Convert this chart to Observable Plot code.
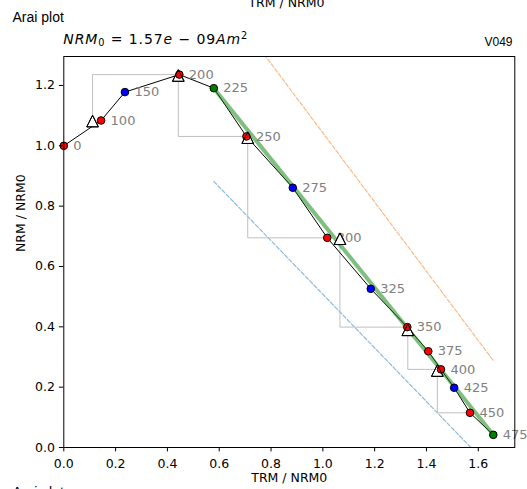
<!DOCTYPE html>
<html>
<head>
<meta charset="utf-8">
<script src="https://cdn.jsdelivr.net/npm/d3@7"></script>
<script src="https://cdn.jsdelivr.net/npm/@observablehq/plot@0.6"></script>
<style>
  body { margin: 0; background: #fff; }
  #fig { position: relative; width: 527px; height: 489px; overflow: hidden; background: #fff; }
  #fig svg { position: absolute; left: 0; top: 0; }
  .t { position: absolute; white-space: nowrap; line-height: 1; color: #000; }
  .dv { font-family: "DejaVu Sans", sans-serif; font-size: 12.5px; }
  .ls { font-family: "Liberation Sans", Arial, sans-serif; }
  .t sub, .t sup { font-size: 0.7em; line-height: 0; }
  .t sub { vertical-align: -0.22em; }
  .t sup { vertical-align: 0.5em; }
  .t i { font-style: oblique; }
  .math { font-size: 14px; letter-spacing: 0.9px; }
</style>
</head>
<body>
<div id="fig">
  <div class="t dv" style="left:286.5px; top:-3.1px; transform:translateX(-50%);">TRM / NRM0</div>
  <div class="t ls" style="left:12.5px; top:9.9px; font-size:14px;">Arai plot</div>
  <div class="t dv math" style="left:63.3px; top:32.2px;"><i>NRM</i><sub>0</sub> = 1.57<i>e</i> − 09<i>Am</i><sup>2</sup></div>
  <div class="t ls" style="right:14.5px; top:35.9px; font-size:12px;">V049</div>
  <div class="t ls" style="left:12.5px; top:484.6px; font-size:14px;">Arai plot</div>
</div>
<script>
// Thellier steps: temperature, TRM gained and NRM remaining (both normalised)
const temps = [0, 100, 150, 200, 225, 250, 275, 300, 325, 350, 375, 400, 425, 450, 475];
const trm = [0, 0.144, 0.236, 0.446, 0.579, 0.705, 0.884, 1.017, 1.185, 1.326, 1.407, 1.456, 1.507, 1.568, 1.658];
const nrm = [1.0, 1.084, 1.178, 1.236, 1.191, 1.031, 0.861, 0.695, 0.526, 0.399, 0.319, 0.259, 0.198, 0.115, 0.042];
const stepColors = ["red", "red", "blue", "red", "green", "red", "blue", "red", "blue", "red", "red", "red", "blue", "red", "green"];

// pTRM checks and the step each one is tied back to
const checkTrm = [0.111, 0.442, 0.710, 1.066, 1.328, 1.442];
const checkNrm = [1.082, 1.233, 1.027, 0.692, 0.390, 0.255];
const checkTarget = [200, 250, 300, 350, 400, 450];

// best-fit segment and its bounding lines
const fitTrm = [0.579, 1.658];
const fitNrm = [1.191, 0.042];
const upperTrm = [0.579, 1.658];
const upperNrm = [1.526, 0.288];
const lowerTrm = [0.579, 1.658];
const lowerNrm = [0.882, -0.077];

const xTicks = [0, 0.2, 0.4, 0.6, 0.8, 1.0, 1.2, 1.4, 1.6];
const yTicks = [0, 0.2, 0.4, 0.6, 0.8, 1.0, 1.2];

const steps = temps.map((t, i) => ({t, x: trm[i], y: nrm[i], color: stepColors[i]}));
const checks = checkTrm.map((x, i) => ({x, y: checkNrm[i]}));
const checkPaths = checks.flatMap((c, i) => {
  const s = steps.find(d => d.t === checkTarget[i]);
  return [
    {id: i, x: c.x, y: c.y},
    {id: i, x: c.x, y: s.y},
    {id: i, x: s.x, y: s.y}
  ];
});
const pairs = (xs, ys) => xs.map((x, i) => ({x, y: ys[i]}));

// open triangle centred on its bounding box
const triangle = {
  draw(context, size) {
    const a = Math.sqrt(size / Math.PI);
    context.moveTo(0, -a);
    context.lineTo(a, a);
    context.lineTo(-a, a);
    context.closePath();
  }
};

const chart = Plot.plot({
  width: 527,
  height: 489,
  marginLeft: 63.3,
  marginRight: 12.7,
  marginTop: 56,
  marginBottom: 42,
  x: {domain: [0, 1.741]},
  y: {domain: [0, 1.296]},
  color: {type: "identity"},
  style: {fontFamily: "DejaVu Sans", fontSize: "12.5px", color: "black", background: "transparent", overflow: "visible"},
  marks: [
    Plot.line(pairs(lowerTrm, lowerNrm), {x: "x", y: "y", stroke: "#8fbbda", strokeWidth: 1.2, strokeDasharray: "4,2", clip: true}),
    Plot.line(pairs(upperTrm, upperNrm), {x: "x", y: "y", stroke: "#ffb985", strokeWidth: 1.2, strokeDasharray: "4,2", clip: true}),
    Plot.line(checkPaths, {x: "x", y: "y", z: "id", stroke: "#bfbfbf", strokeWidth: 1, strokeLinejoin: "miter", strokeLinecap: "butt"}),
    Plot.line(steps, {x: "x", y: "y", stroke: "black", strokeWidth: 1}),
    Plot.line(pairs(fitTrm, fitNrm), {x: "x", y: "y", stroke: "green", strokeOpacity: 0.5, strokeWidth: 4, strokeLinecap: "butt"}),
    Plot.text(steps, {x: "x", y: "y", text: d => String(d.t), textAnchor: "start", dx: 9.5, fill: "#808080", fontSize: 13}),
    // check markers: white body under the step dots, outline above them
    Plot.dot(checks, {x: "x", y: "y", symbol: triangle, r: 5.8, fill: "white", stroke: "black", strokeWidth: 1}),
    Plot.dot(steps, {x: "x", y: "y", r: 3.8, fill: "color", stroke: "black", strokeWidth: 1}),
    Plot.dot(checks, {x: "x", y: "y", symbol: triangle, r: 5.8, fill: "none", stroke: "black", strokeWidth: 1}),
    Plot.frame({stroke: "black", strokeWidth: 1}),
    Plot.axisX({ticks: xTicks, tickSize: 4.4, tickPadding: 7, tickFormat: d3.format(".1f"), label: null}),
    Plot.axisY({ticks: yTicks, tickSize: 4.4, tickPadding: 4.4, tickFormat: d3.format(".1f"), label: null}),
    Plot.text(["TRM / NRM0"], {frameAnchor: "bottom", dy: 34, fontSize: 12.5}),
    Plot.text(["NRM / NRM0"], {frameAnchor: "left", dx: -43.3, rotate: -90, fontSize: 12.5})
  ]
});

document.getElementById("fig").prepend(chart);
</script>
</body>
</html>
